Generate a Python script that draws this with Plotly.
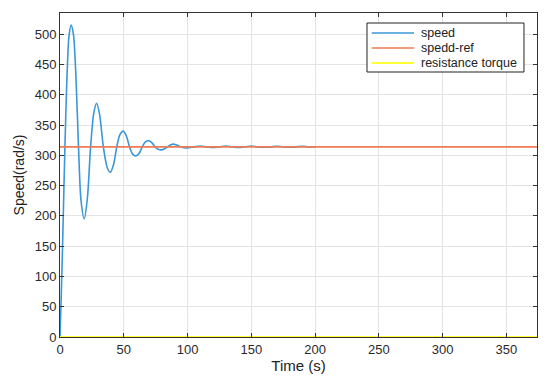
import plotly.graph_objects as go

# Speed response
t_speed = [0, 1, 2, 3, 4, 5, 6, 7, 8.7, 10.5, 12.5, 14.5, 16.5, 19, 21.5, 24, 26.5, 28.7, 31, 34, 37, 39.5, 42, 44.5, 47,
           49.6, 52, 54.5, 57, 59.5, 62, 64.5, 67, 69.7, 72, 74.5, 77, 79.6, 82, 84.3, 86.5, 89, 91.5, 94.5, 97, 100,
           105, 110, 115, 120, 125, 130, 135, 140, 145, 150, 155, 160, 165, 170, 175, 180, 185, 190, 195, 200]
speed = [0, 70, 150, 240, 325, 400, 458, 496, 515, 500, 430, 314, 225, 195, 230, 314, 370, 386, 368, 314, 280, 272, 285, 314, 334,
         340, 332, 314, 302, 299, 303, 314, 322, 324, 321, 314, 310, 309, 311, 314, 317, 318.5, 317, 314, 312.5, 312,
         314, 315.5, 314, 312.8, 314, 315.5, 314, 313, 314, 315.5, 314, 313.2, 314, 315, 314, 313.5, 314, 314.8, 314, 314]

x_full = [0, 375]
speed_ref = [314, 314]
resistance_torque = [0, 0]

x_ticks = [0, 50, 100, 150, 200, 250, 300, 350]
y_ticks = [0, 50, 100, 150, 200, 250, 300, 350, 400, 450, 500]

series_names = ["speed", "spedd-ref", "resistance torque"]
series_colors = ["#3A97D8", "#EE7B52", "#FFFF33"]
series_widths = [1.6, 1.6, 2.2]

fig = go.Figure()
fig.add_trace(go.Scatter(x=t_speed, y=speed, mode="lines", name=series_names[0],
                         line=dict(color=series_colors[0], width=series_widths[0], shape="spline", smoothing=0.8)))
fig.add_trace(go.Scatter(x=x_full, y=speed_ref, mode="lines", name=series_names[1],
                         line=dict(color=series_colors[1], width=series_widths[1])))
fig.add_trace(go.Scatter(x=x_full, y=resistance_torque, mode="lines", name=series_names[2],
                         line=dict(color=series_colors[2], width=series_widths[2])))

axis_common = dict(showline=True, linecolor="#333333", linewidth=1, mirror="ticks",
                   ticks="inside", ticklen=4, tickcolor="#333333", automargin=False,
                   showgrid=True, gridcolor="#E3E3E3", gridwidth=1, zeroline=False,
                   tickfont=dict(family="Liberation Sans, Arial", size=13, color="#2A2A2A"))

# Legend box drawn in paper coordinates (compact MATLAB-style legend)
shapes = [dict(type="rect", xref="paper", yref="paper", x0=0.6436, x1=0.9727, y0=0.8179, y1=0.9691,
               line=dict(color="#222222", width=1), fillcolor="white", layer="above")]
annotations = []
row_y = [0.9383, 0.8920, 0.8457]
for name, color, width, yy in zip(series_names, series_colors, series_widths, row_y):
    shapes.append(dict(type="line", xref="paper", yref="paper", x0=0.6535, x1=0.7421, y0=yy, y1=yy,
                       line=dict(color=color, width=width), layer="above"))
    annotations.append(dict(text=name, xref="paper", yref="paper", x=0.7526, y=yy, xanchor="left",
                            yanchor="middle", showarrow=False,
                            font=dict(family="Liberation Sans, Arial", size=12.5, color="#222222")))

fig.update_layout(
    width=550, height=384,
    margin=dict(l=60, r=13, t=13, b=47),
    paper_bgcolor="white", plot_bgcolor="white",
    font=dict(family="Liberation Sans, Arial", color="#222222"),
    xaxis=dict(range=[0, 374], tickvals=x_ticks,
               title=dict(text="Time (s)", font=dict(size=15), standoff=4), **axis_common),
    yaxis=dict(range=[0, 535], tickvals=y_ticks,
               title=dict(text="Speed(rad/s)", font=dict(size=14), standoff=6), **axis_common),
    shapes=shapes,
    annotations=annotations,
    showlegend=False,
)

fig.write_html("out.html", config={"displayModeBar": False},
               post_script="document.body.style.margin='0px';document.body.style.padding='0px';")
